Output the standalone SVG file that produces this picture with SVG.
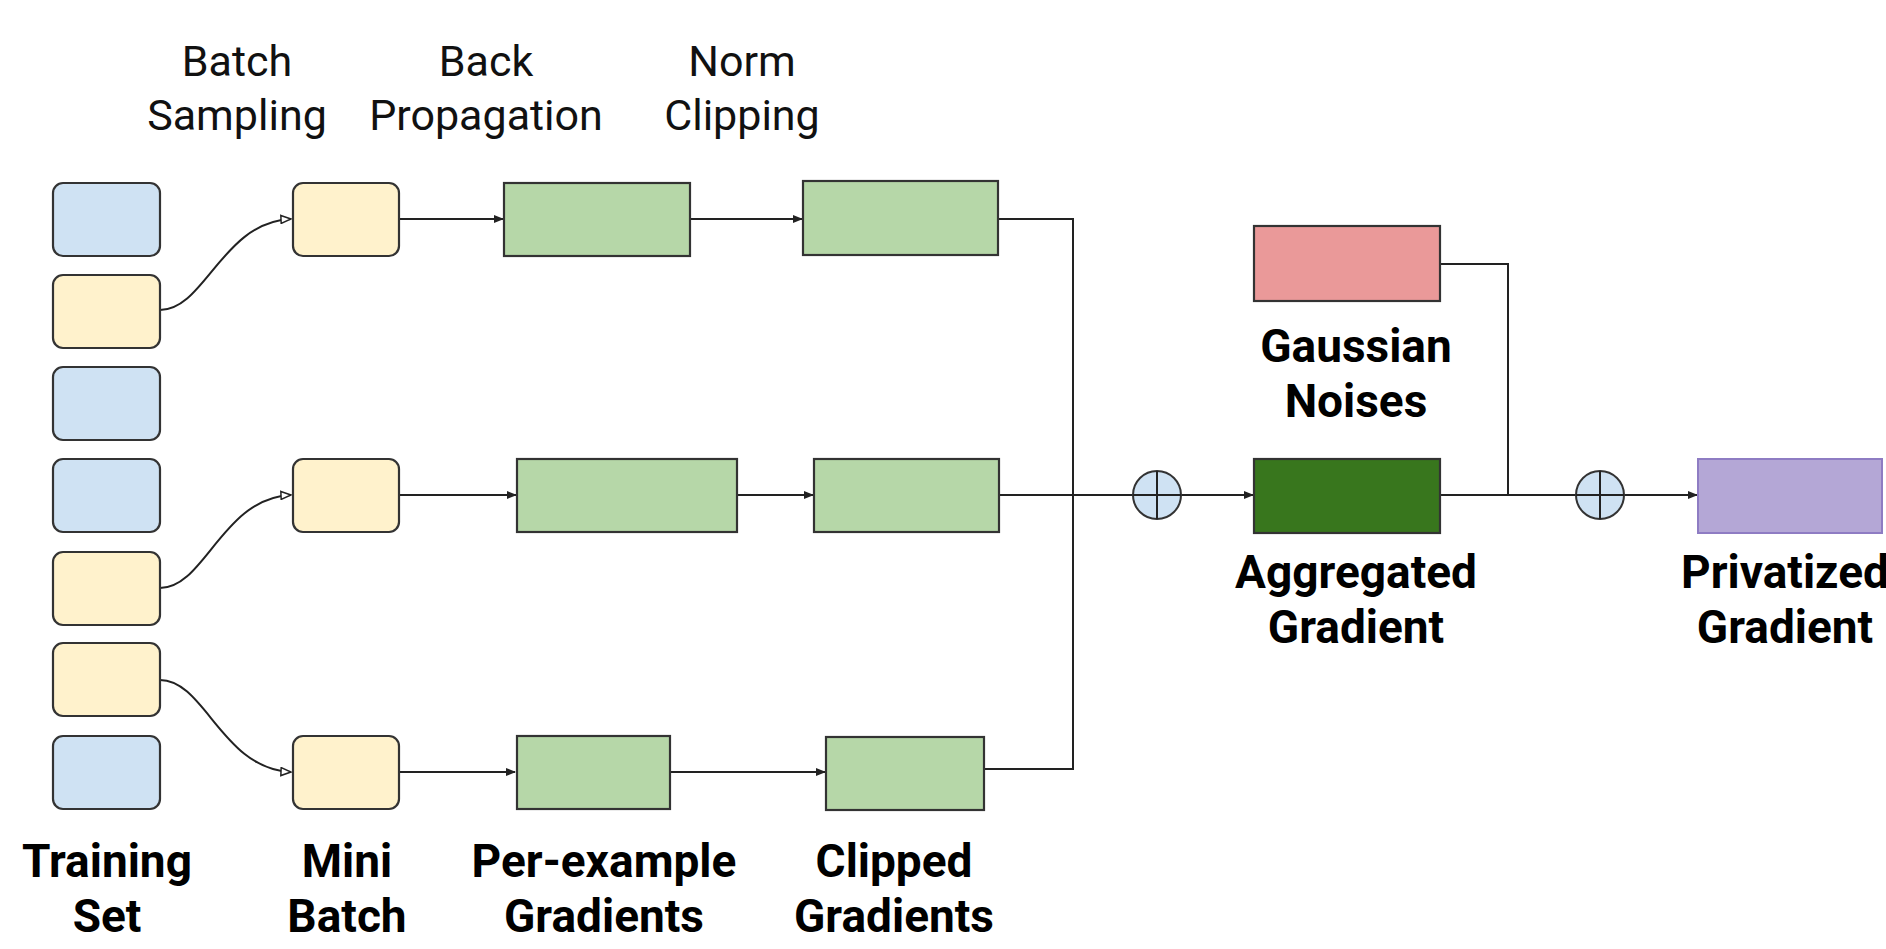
<svg xmlns="http://www.w3.org/2000/svg" width="1886" height="949" viewBox="0 0 1886 949">
<style>
.box{stroke:#333;stroke-width:2.2}
.blue{fill:#cfe2f3}
.yel{fill:#fff2cc}
.grn{fill:#b6d7a8}
.line{fill:none;stroke:#222;stroke-width:2}
.t{font-family:Roboto,"Liberation Sans",sans-serif;font-size:43px;fill:#111;text-anchor:middle}
.b{font-family:Roboto,"Liberation Sans",sans-serif;font-size:46px;font-weight:bold;fill:#000;text-anchor:middle}
</style>
<defs>
<marker id="arr" markerWidth="10" markerHeight="8" refX="9" refY="4" orient="auto" markerUnits="userSpaceOnUse">
<path d="M0,0 L10,4 L0,8 Z" fill="#222"/>
</marker>
<marker id="arrO" markerWidth="12" markerHeight="10" refX="11" refY="5" orient="auto" markerUnits="userSpaceOnUse">
<path d="M1,1 L11,5 L1,9 Z" fill="#fff" stroke="#222" stroke-width="1.5"/>
</marker>
</defs>
<rect width="1886" height="949" fill="#fff"/>

<g id="stage-labels">
<text class="t" x="237" y="76">Batch</text>
<text class="t" x="237" y="130">Sampling</text>
<text class="t" x="486" y="76">Back</text>
<text class="t" x="486" y="130">Propagation</text>
<text class="t" x="742" y="76">Norm</text>
<text class="t" x="742" y="130">Clipping</text>
</g>

<g id="connectors">
<path class="line" d="M160,310 C205,310 222,222 291,219" marker-end="url(#arrO)"/>
<path class="line" d="M160,588 C205,588 222,498 291,495" marker-end="url(#arrO)"/>
<path class="line" d="M160,680 C205,680 222,769 291,772" marker-end="url(#arrO)"/>
<path class="line" d="M399,219 H503" marker-end="url(#arr)"/>
<path class="line" d="M690,219 H802" marker-end="url(#arr)"/>
<path class="line" d="M399,495 H516" marker-end="url(#arr)"/>
<path class="line" d="M737,495 H813" marker-end="url(#arr)"/>
<path class="line" d="M399,772 H515" marker-end="url(#arr)"/>
<path class="line" d="M670,772 H825" marker-end="url(#arr)"/>
<path class="line" d="M998,219 H1073 V769 H984"/>
<path class="line" d="M999,495 H1133"/>
<path class="line" d="M1181,495 H1253" marker-end="url(#arr)"/>
<path class="line" d="M1440,264 H1508 V495"/>
<path class="line" d="M1440,495 H1576"/>
<path class="line" d="M1624,495 H1697" marker-end="url(#arr)"/>
</g>

<g id="training-set">
<rect class="box blue" x="53" y="183" width="107" height="73" rx="10"/>
<rect class="box yel" x="53" y="275" width="107" height="73" rx="10"/>
<rect class="box blue" x="53" y="367" width="107" height="73" rx="10"/>
<rect class="box blue" x="53" y="459" width="107" height="73" rx="10"/>
<rect class="box yel" x="53" y="552" width="107" height="73" rx="10"/>
<rect class="box yel" x="53" y="643" width="107" height="73" rx="10"/>
<rect class="box blue" x="53" y="736" width="107" height="73" rx="10"/>
<text class="b" x="107" y="877">Training</text>
<text class="b" x="107" y="932">Set</text>
</g>

<g id="mini-batch">
<rect class="box yel" x="293" y="183" width="106" height="73" rx="10"/>
<rect class="box yel" x="293" y="459" width="106" height="73" rx="10"/>
<rect class="box yel" x="293" y="736" width="106" height="73" rx="10"/>
<text class="b" x="347" y="877">Mini</text>
<text class="b" x="347" y="932">Batch</text>
</g>

<g id="per-example-gradients">
<rect class="box grn" x="504" y="183" width="186" height="73"/>
<rect class="box grn" x="517" y="459" width="220" height="73"/>
<rect class="box grn" x="517" y="736" width="153" height="73"/>
<text class="b" x="604" y="877">Per-example</text>
<text class="b" x="604" y="932">Gradients</text>
</g>

<g id="clipped-gradients">
<rect class="box grn" x="803" y="181" width="195" height="74"/>
<rect class="box grn" x="814" y="459" width="185" height="73"/>
<rect class="box grn" x="826" y="737" width="158" height="73"/>
<text class="b" x="894" y="877">Clipped</text>
<text class="b" x="894" y="932">Gradients</text>
</g>

<g id="sum-1">
<circle cx="1157" cy="495" r="24" fill="#cfe2f3" stroke="#333" stroke-width="2"/>
<path class="line" d="M1157,471 V519 M1133,495 H1181"/>
</g>

<g id="gaussian-noises">
<rect class="box" x="1254" y="226" width="186" height="75" fill="#ea9999"/>
<text class="b" x="1356" y="362">Gaussian</text>
<text class="b" x="1356" y="417">Noises</text>
</g>

<g id="aggregated-gradient">
<rect class="box" x="1254" y="459" width="186" height="74" fill="#38761d"/>
<text class="b" x="1356" y="588">Aggregated</text>
<text class="b" x="1356" y="643">Gradient</text>
</g>

<g id="sum-2">
<circle cx="1600" cy="495" r="24" fill="#cfe2f3" stroke="#333" stroke-width="2"/>
<path class="line" d="M1600,471 V519 M1576,495 H1624"/>
</g>

<g id="privatized-gradient">
<rect x="1698" y="459" width="184" height="74" fill="#b4a7d6" stroke="#8e7cc3" stroke-width="2"/>
<text class="b" x="1785" y="588">Privatized</text>
<text class="b" x="1785" y="643">Gradient</text>
</g>
</svg>
